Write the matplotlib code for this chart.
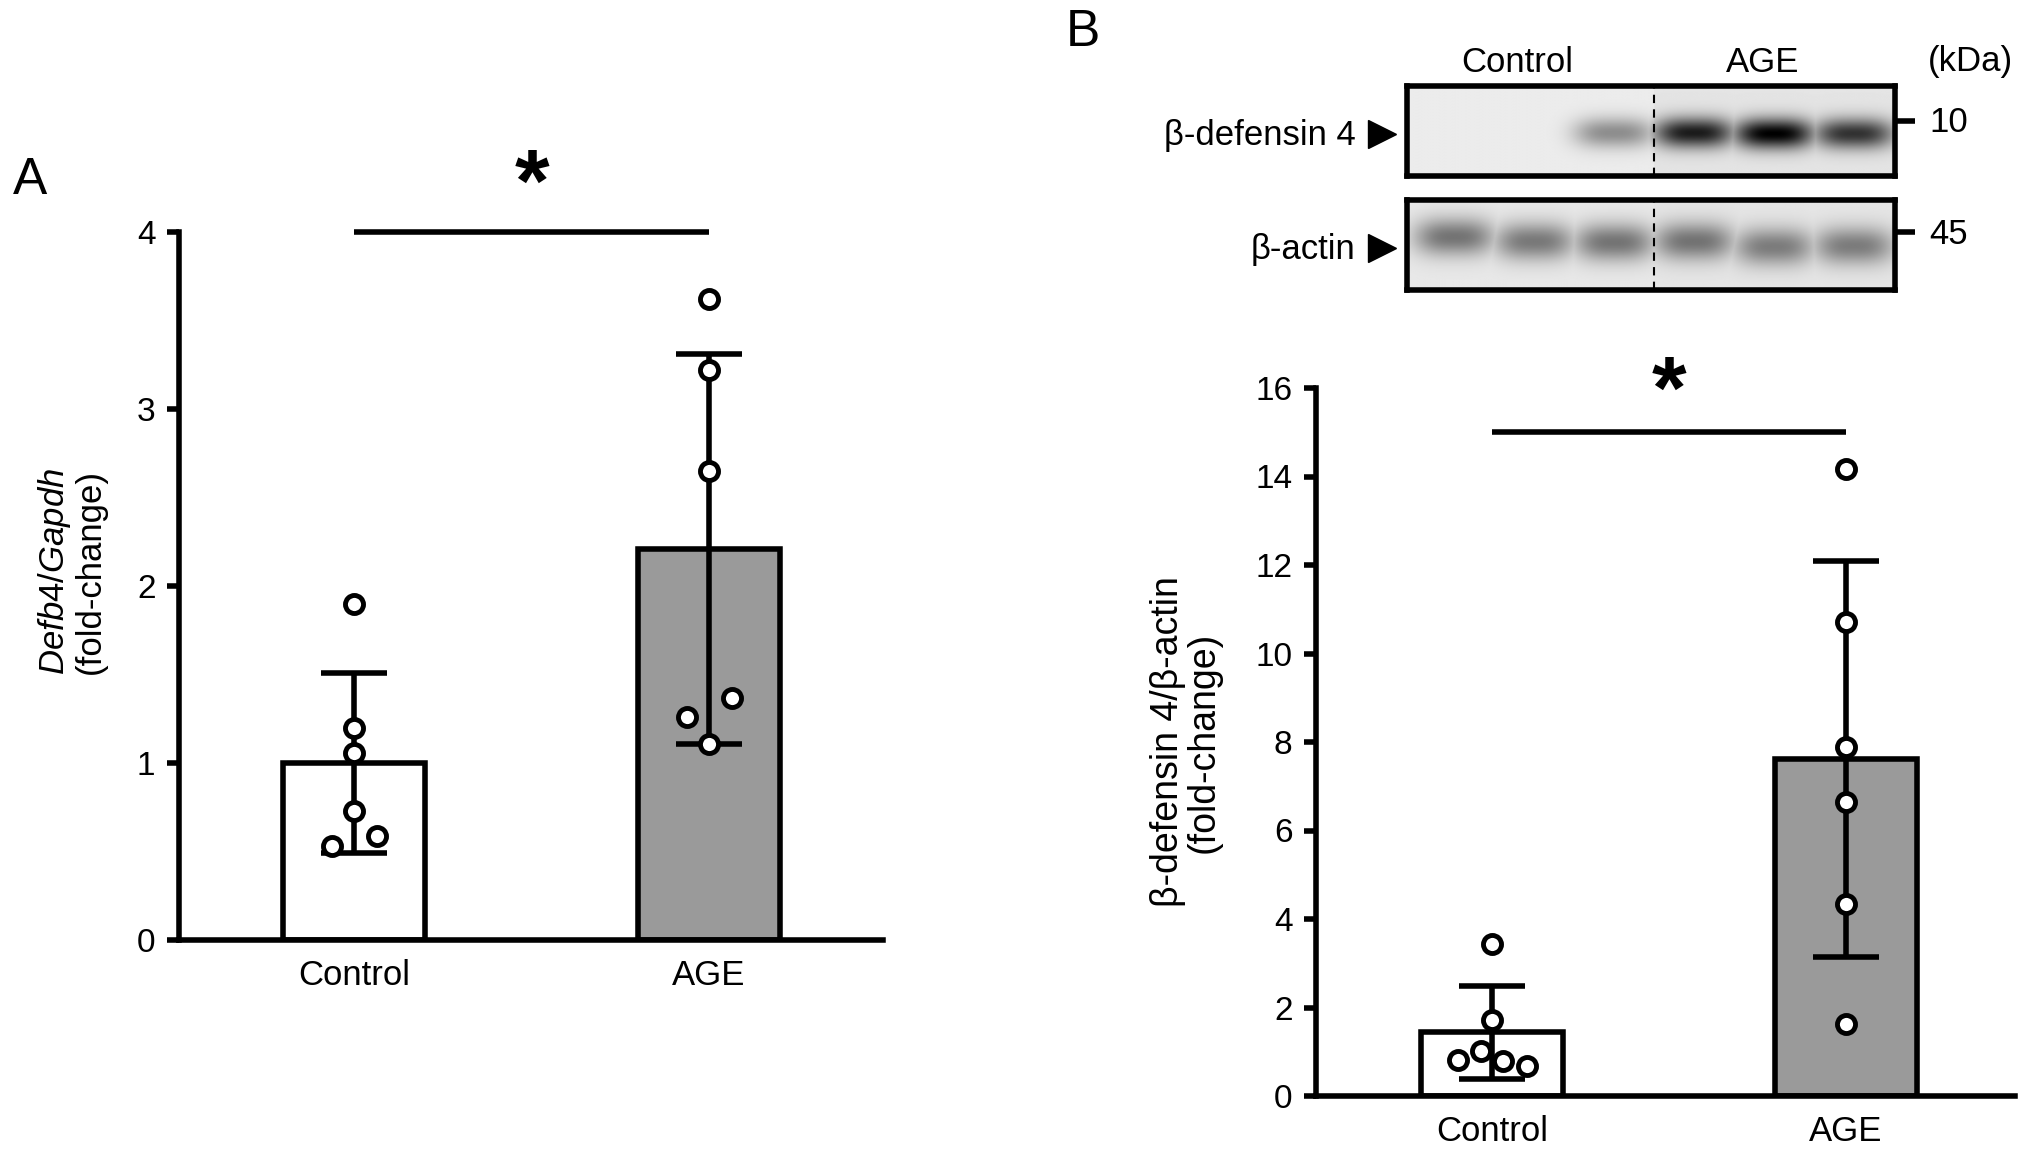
import numpy as np
import matplotlib
matplotlib.use('Agg')
import matplotlib.pyplot as plt

plt.rcParams['font.family'] = ['Liberation Sans', 'DejaVu Sans']
plt.rcParams['mathtext.fontset'] = 'custom'
plt.rcParams['mathtext.rm'] = 'Liberation Sans'
plt.rcParams['mathtext.it'] = 'Liberation Sans:italic'

W, H = 2032, 1149

groups = ['Control', 'AGE']
bar_colors = ['white', '#9a9a9a']

# panel A: Defb4/Gapdh qPCR
a_mean = [1.00, 2.21]
a_sd = [0.51, 1.10]
a_ctrl_pts = [1.90, 1.20, 1.055, 0.73, 0.53, 0.59]
a_ctrl_dx = [0, 0, 0, 0, -0.063, 0.066]
a_age_pts = [3.62, 3.22, 2.65, 1.26, 1.365, 1.11]
a_age_dx = [0, 0, 0, -0.062, 0.065, 0]

# panel B: densitometry
b_mean = [1.44, 7.61]
b_sd = [1.05, 4.47]
b_ctrl_pts = [3.43, 1.71, 1.02, 0.82, 0.78, 0.68]
b_ctrl_dx = [0, 0, -0.030, -0.095, 0.031, 0.098]
b_age_pts = [14.18, 10.71, 7.88, 6.65, 4.34, 1.62]
b_age_dx = [0, 0, 0, 0, 0, 0]

# western blot lanes (relative band darkness)
lanes = [1, 2, 3, 4, 5, 6]
defb4_band = [0.0, 0.0, 0.40, 0.88, 1.0, 0.78]
defb4_y = [0.52, 0.52, 0.52, 0.52, 0.53, 0.53]
actin_band = [0.50, 0.48, 0.50, 0.50, 0.46, 0.46]
actin_y = [0.41, 0.46, 0.47, 0.46, 0.52, 0.51]

LW = 4


def px_rect(x0, x1, ytop, ybot):
    return [x0 / W, 1 - ybot / H, (x1 - x0) / W, (ybot - ytop) / H]


def bar_panel(ax, means, sds, pts_list, dx_list, ymax, yticks, xlim, sig_y, star_y,
              ylabel, label_size, label_xy):
    x = np.arange(len(groups))
    ax.bar(x, means, width=0.40, color=bar_colors, edgecolor='black', linewidth=LW, zorder=2)
    ax.errorbar(x, means, yerr=sds, fmt='none', ecolor='black', elinewidth=LW,
                capsize=24, capthick=LW, zorder=3)
    for i, (pts, dx) in enumerate(zip(pts_list, dx_list)):
        ax.plot(x[i] + np.array(dx), pts, 'o', ms=13, mfc='white', mec='black', mew=3.5,
                zorder=4, clip_on=False)
    ax.plot([0, 1], [sig_y, sig_y], color='black', lw=LW, clip_on=False, solid_capstyle='butt')
    ax.text(0.5, star_y, '*', ha='center', va='center', fontsize=64, fontweight='bold')
    ax.set_xlim(*xlim)
    ax.set_ylim(0, ymax)
    ax.set_yticks(yticks)
    ax.set_xticks(x)
    ax.set_xticklabels(groups, fontsize=25)
    ax.tick_params(axis='x', length=0, pad=14)
    ax.tick_params(axis='y', direction='out', length=9, width=LW, labelsize=24, pad=8)
    for s in ['top', 'right']:
        ax.spines[s].set_visible(False)
    for s in ['left', 'bottom']:
        ax.spines[s].set_linewidth(LW)
    ax.set_ylabel(ylabel, fontsize=label_size, linespacing=1.0)
    ax.yaxis.set_label_coords(*label_xy)


fig = plt.figure(figsize=(W / 100, H / 100), dpi=100)

axA = fig.add_axes(px_rect(179, 883, 232, 940))
bar_panel(axA, a_mean, a_sd, [a_ctrl_pts, a_age_pts], [a_ctrl_dx, a_age_dx],
          4, [0, 1, 2, 3, 4], (-0.493, 1.490), 4.0, 4.25,
          '$\\mathit{Defb4/Gapdh}$\n(fold-change)', 25, (-0.103, 0.52))

axB = fig.add_axes(px_rect(1316, 2015, 388, 1096))
bar_panel(axB, b_mean, b_sd, [b_ctrl_pts, b_age_pts], [b_ctrl_dx, b_age_dx],
          16, [0, 2, 4, 6, 8, 10, 12, 14, 16], (-0.497, 1.477), 15.0, 15.85,
          'β-defensin 4/β-actin\n(fold-change)', 27, (-0.135, 0.5))

fig.text(13 / W, 1 - 180 / H, 'A', fontsize=37, va='center', ha='left')
fig.text(1066 / W, 1 - 33 / H, 'B', fontsize=37, va='center', ha='left')


def blot(ax, band, ycen, thick, bg_left, bg_right, label, marker_lbl, tick_y):
    xs = np.linspace(0.41, 6.51, 600)
    ys = np.linspace(0, 1, 120)
    X, Y = np.meshgrid(xs, ys)
    img = np.where(X < 3.5, bg_left, bg_right)
    dark = np.zeros_like(X)
    for lx, b, yc in zip(lanes, band, ycen):
        prof = np.exp(-(np.abs(X - lx) / 0.5) ** 3) * np.exp(-((Y - yc) / thick) ** 2)
        dark = np.maximum(dark, b * prof)
    img = img * (1 - dark)
    ax.imshow(img, cmap='gray', vmin=0, vmax=1, extent=[0.41, 6.51, 1, 0],
              aspect='auto', interpolation='bilinear')
    ax.set_xlim(0.41, 6.51)
    ax.set_ylim(1, 0)
    ax.axvline(3.5, color='black', lw=1.5, ls=(0, (4, 3)))
    ax.set_xticks([])
    ax.set_yticks([])
    for s in ax.spines.values():
        s.set_linewidth(LW)
    ax.text(-0.105, 0.45, label, transform=ax.transAxes, ha='right', va='center', fontsize=25)
    ax.plot([-0.052], [0.47], marker='>', ms=20, color='black', transform=ax.transAxes,
            clip_on=False)
    ax.plot([1.004, 1.04], [tick_y, tick_y], color='black', lw=LW, transform=ax.transAxes,
            clip_on=False, solid_capstyle='butt')
    ax.text(1.07, tick_y - 0.02, marker_lbl, transform=ax.transAxes, ha='left', va='center',
            fontsize=25)


axT = fig.add_axes(px_rect(1407, 1895, 86, 176))
blot(axT, defb4_band, defb4_y, 0.17, 0.925, 0.895, 'β-defensin 4', '10', 0.61)
axL = fig.add_axes(px_rect(1407, 1895, 200, 290))
blot(axL, actin_band, actin_y, 0.21, 0.91, 0.90, 'β-actin', '45', 0.64)

fig.text(1517 / W, 1 - 62 / H, 'Control', fontsize=25, ha='center', va='center')
fig.text(1763 / W, 1 - 62 / H, 'AGE', fontsize=25, ha='center', va='center')
fig.text(1970 / W, 1 - 62 / H, '(kDa)', fontsize=25, ha='center', va='center')

fig.savefig('out.png', dpi=100)
